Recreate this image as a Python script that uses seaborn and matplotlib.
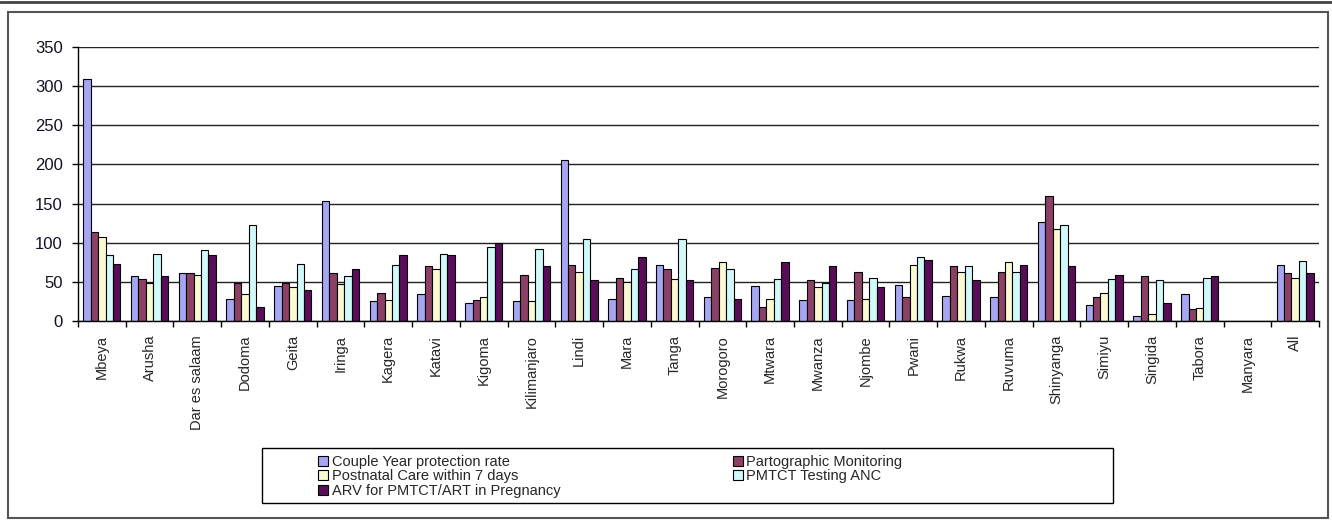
import numpy as np
import pandas as pd
import matplotlib
matplotlib.use("Agg")
import matplotlib.pyplot as plt
from matplotlib.patches import Rectangle
from matplotlib.lines import Line2D
import seaborn as sns

# values
regions = ["Mbeya", "Arusha", "Dar es salaam", "Dodoma", "Geita", "Iringa", "Kagera",
           "Katavi", "Kigoma", "Kilimanjaro", "Lindi", "Mara", "Tanga", "Morogoro",
           "Mtwara", "Mwanza", "Njombe", "Pwani", "Rukwa", "Ruvuma", "Shinyanga",
           "Simiyu", "Singida", "Tabora", "Manyara", "All"]
nan = np.nan
couple_year = [309, 57, 61, 28, 45, 153, 25, 34, 23, 25, 206, 28, 71, 31, 45, 27, 27,
               46, 32, 31, 127, 20, 7, 34, nan, 71]
partographic = [114, 54, 61, 49, 49, 61, 36, 70, 27, 59, 71, 55, 66, 68, 18, 52, 63,
                31, 70, 63, 160, 31, 57, 15, nan, 61]
postnatal = [107, 48, 59, 34, 44, 47, 27, 66, 31, 25, 62, 50, 54, 75, 28, 43, 28,
             71, 63, 75, 118, 36, 9, 16, nan, 55]
pmtct_testing = [84, 86, 91, 123, 73, 57, 71, 86, 94, 92, 105, 66, 105, 66, 54, 48, 55,
                 82, 70, 63, 123, 54, 52, 55, nan, 77]
arv = [73, 57, 84, 18, 39, 66, 84, 84, 99, 70, 52, 82, 52, 28, 75, 70, 43,
       78, 52, 71, 70, 59, 23, 57, nan, 61]

indicators = ["Couple Year protection rate", "Partographic Monitoring",
              "Postnatal Care within 7 days", "PMTCT Testing ANC",
              "ARV for PMTCT/ART in Pregnancy"]
colors = ["#9999FF", "#993366", "#FFFFCC", "#CCFFFF", "#660066"]

wide = pd.DataFrame({"region": regions,
                     indicators[0]: couple_year,
                     indicators[1]: partographic,
                     indicators[2]: postnatal,
                     indicators[3]: pmtct_testing,
                     indicators[4]: arv})
df = wide.melt(id_vars="region", var_name="indicator", value_name="value")

sns.set_style("white")
plt.rcParams["font.family"] = ["Liberation Sans", "DejaVu Sans"]

W, H = 1332, 520
fig = plt.figure(figsize=(W / 100, H / 100), dpi=100)
ax = fig.add_axes([78 / W, 1 - 321 / H, (1319 - 78) / W, 274 / H])

sns.barplot(data=df, x="region", y="value", hue="indicator", order=regions,
            hue_order=indicators, palette=colors, edgecolor="black", linewidth=0.8,
            width=0.78, ax=ax, errorbar=None)

ax.set_ylim(0, 350)
ax.set_xlim(-0.5, len(regions) - 0.5)
ax.set_yticks(np.arange(0, 351, 50))
ax.yaxis.grid(True, color="#222222", linewidth=1)
ax.set_axisbelow(True)
ax.set_xlabel("")
ax.set_ylabel("")

for side in ["top", "right"]:
    ax.spines[side].set_visible(False)
for side in ["left", "bottom"]:
    ax.spines[side].set_color("black")
    ax.spines[side].set_linewidth(1)

# category labels, ticks between groups
ax.set_xticks(range(len(regions)))
ax.set_xticklabels(regions, rotation=90, fontsize=10.5)
ax.set_xticks(np.arange(-0.5, len(regions), 1), minor=True)
ax.tick_params(axis="x", which="major", length=0, pad=10)
ax.tick_params(axis="x", which="minor", length=4, width=1, color="black", direction="out")
ax.tick_params(axis="y", length=4, width=1, color="black", direction="out", pad=7,
               labelsize=12, labelcolor="#111122")
ax.yaxis.set_tick_params(left=True)
ax.xaxis.set_tick_params(bottom=True, which="both")

# legend: Excel style, row-major order in two columns
handles, labels = ax.get_legend_handles_labels()
ax.get_legend().remove()
order = [0, 2, 4, 1, 3]
fig.legend([handles[i] for i in order], [labels[i] for i in order],
           loc="upper left", bbox_to_anchor=(318 / W, 1 - 455 / H), ncol=2,
           frameon=False, borderpad=0, borderaxespad=0, fontsize=10.5,
           handlelength=0.7, handleheight=0.7, handletextpad=0.25,
           labelspacing=0.03, columnspacing=11.8)

# legend frame and outer chart border
fig.add_artist(Rectangle((262 / W, 1 - 503 / H), (1113 - 262) / W, 55 / H,
                         transform=fig.transFigure, fill=False, edgecolor="black", lw=1))
fig.add_artist(Rectangle((8 / W, 1 - 518 / H), (1328 - 8) / W, 506 / H,
                         transform=fig.transFigure, fill=False, edgecolor="#555555", lw=1.5))
fig.add_artist(Line2D([0, 1], [1 - 1.5 / H, 1 - 1.5 / H], transform=fig.transFigure,
                      color="#444444", lw=2))

fig.savefig("out.png", dpi=100)
